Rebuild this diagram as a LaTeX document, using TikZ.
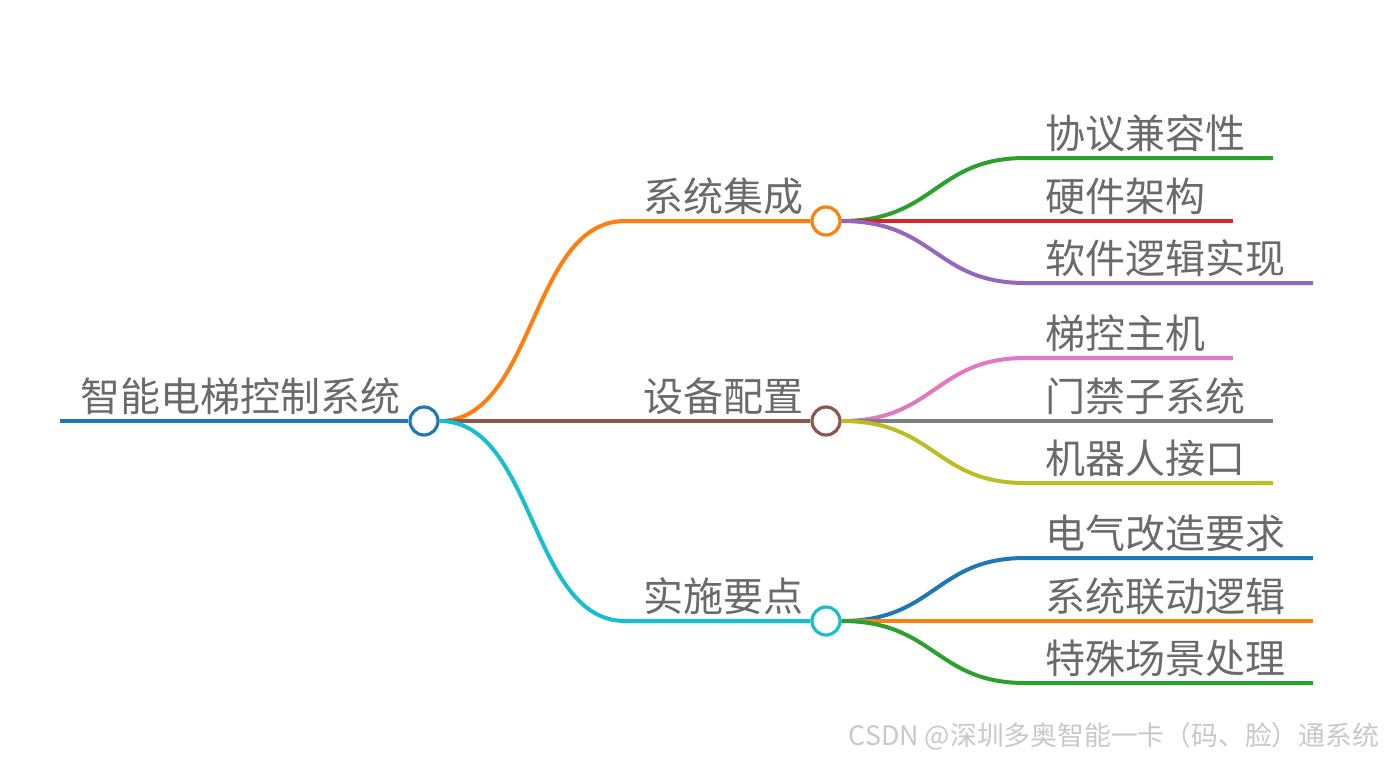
\documentclass[tikz,border=0pt]{standalone}
\usepackage{fontspec}
\newfontfamily\cjk{Noto Sans CJK SC}
\begin{document}
\begin{tikzpicture}[x=0.5pt, y=-0.5pt, line width=2pt,
    every node/.style={font=\cjk\fontsize{20pt}{24pt}\selectfont, text=txt, inner sep=0pt},
    hub/.style={circle, draw, fill=white, line width=1.6pt, minimum size=14pt},
    leaftext/.style={anchor=base west}]
        \definecolor{txt}{RGB}{106,106,108}
        \definecolor{cRoot}{RGB}{31,119,180}
        \definecolor{cOrange}{RGB}{255,127,14}
        \definecolor{cBrown}{RGB}{140,86,75}
        \definecolor{cCyan}{RGB}{23,190,207}
        \definecolor{cGreen}{RGB}{44,160,44}
        \definecolor{cRed}{RGB}{214,39,40}
        \definecolor{cPurple}{RGB}{148,103,189}
        \definecolor{cPink}{RGB}{227,119,194}
        \definecolor{cGray}{RGB}{127,127,127}
        \definecolor{cOlive}{RGB}{188,189,34}
        \definecolor{mark}{RGB}{200,200,200}
        \useasboundingbox (0,0) rectangle (1384,760);
        % root
        \coordinate (rootL) at (60,421);
        \node[hub, draw=cRoot] (root) at (424,421) {};
        \draw[cRoot] (rootL) -- (root.west);
        \node[leaftext] at (78,411) {智能电梯控制系统};
        % branches
        \node[hub, draw=cOrange] (sys) at (826,221) {};
        \node[hub, draw=cBrown] (dev) at (826,421) {};
        \node[hub, draw=cCyan] (imp) at (826,621) {};
        \coordinate (sysK) at (625,221);
        \coordinate (impK) at (625,621);
        \draw[cOrange] (root.east) .. controls (535,421) and (530,221) .. (sysK) -- (sys.west);
        \draw[cBrown] (root.east) -- (dev.west);
        \draw[cCyan] (root.east) .. controls (535,421) and (530,621) .. (impK) -- (imp.west);
        \node[leaftext] at (641,211) {系统集成};
        \node[leaftext] at (641,411) {设备配置};
        \node[leaftext] at (641,611) {实施要点};
        % leaves of sys
        \coordinate (protoK) at (1025,158); \coordinate (protoE) at (1273,158);
        \coordinate (hwK) at (1025,221);    \coordinate (hwE) at (1233,221);
        \coordinate (swK) at (1025,283);    \coordinate (swE) at (1313,283);
        \draw[cGreen] (sys.east) .. controls (935,221) and (935,158) .. (protoK) -- (protoE);
        \draw[cRed] (sys.east) -- (hwK) -- (hwE);
        \draw[cPurple] (sys.east) .. controls (935,221) and (935,283) .. (swK) -- (swE);
        \node[leaftext] at (1043,148) {协议兼容性};
        \node[leaftext] at (1043,211) {硬件架构};
        \node[leaftext] at (1043,273) {软件逻辑实现};
        % leaves of dev
        \coordinate (hostK) at (1025,358); \coordinate (hostE) at (1233,358);
        \coordinate (gateK) at (1025,421); \coordinate (gateE) at (1273,421);
        \coordinate (botK) at (1025,483);  \coordinate (botE) at (1273,483);
        \draw[cPink] (dev.east) .. controls (935,421) and (935,358) .. (hostK) -- (hostE);
        \draw[cGray] (dev.east) -- (gateK) -- (gateE);
        \draw[cOlive] (dev.east) .. controls (935,421) and (935,483) .. (botK) -- (botE);
        \node[leaftext] at (1043,348) {梯控主机};
        \node[leaftext] at (1043,411) {门禁子系统};
        \node[leaftext] at (1043,473) {机器人接口};
        % leaves of imp
        \coordinate (elecK) at (1025,558); \coordinate (elecE) at (1313,558);
        \coordinate (linkK) at (1025,621); \coordinate (linkE) at (1313,621);
        \coordinate (specK) at (1025,683); \coordinate (specE) at (1313,683);
        \draw[cRoot] (imp.east) .. controls (935,621) and (935,558) .. (elecK) -- (elecE);
        \draw[cOrange] (imp.east) -- (linkK) -- (linkE);
        \draw[cGreen] (imp.east) .. controls (935,621) and (935,683) .. (specK) -- (specE);
        \node[leaftext] at (1043,548) {电气改造要求};
        \node[leaftext] at (1043,611) {系统联动逻辑};
        \node[leaftext] at (1043,673) {特殊场景处理};
        % watermark
        \node[anchor=base east, text=mark, font=\cjk\fontsize{13.4pt}{16pt}\selectfont] at (1381,745) {CSDN @深圳多奥智能一卡（码、脸）通系统};
      \end{tikzpicture}
\end{document}
